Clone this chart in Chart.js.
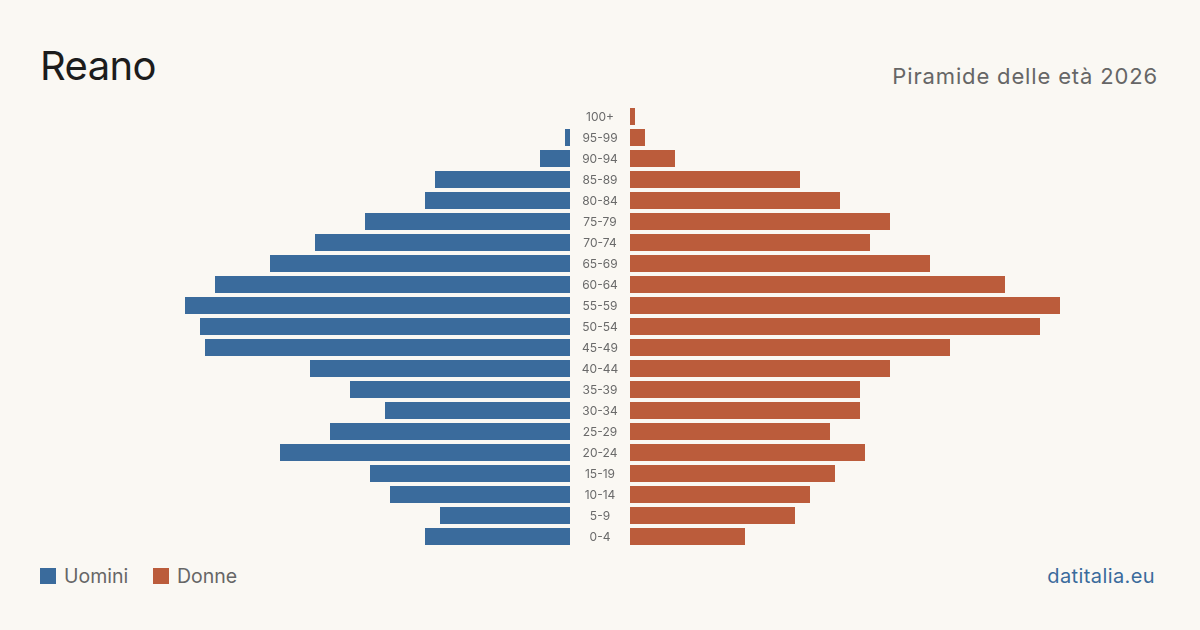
<!DOCTYPE html>
<html>
<head>
<meta charset="utf-8">
<script src="https://cdn.jsdelivr.net/npm/chart.js@4/dist/chart.umd.min.js"></script>
<style>
  html, body { margin: 0; padding: 0; }
  body { width: 1200px; height: 630px; background: #faf8f3; position: relative; overflow: hidden; font-family: Inter, "Noto Sans", sans-serif; }
  .t { position: absolute; white-space: nowrap; }
  #title { left: 40px; top: 46px; font-size: 40px; line-height: 40px; color: #1c1c1c; letter-spacing: -0.6px; }
  #subtitle { right: 42px; top: 65px; font-size: 22px; line-height: 22px; color: #666; letter-spacing: 0.85px; }
  #footer { right: 45px; top: 566px; font-size: 20px; line-height: 20px; color: #3a6b9c; letter-spacing: 0.4px; }
  .sw { position: absolute; top: 568px; width: 16px; height: 16px; }
  .lt { top: 566px; font-size: 19.5px; line-height: 20px; color: #666; }
  canvas { position: absolute; }
</style>
</head>
<body>
<div class="t" id="title">Reano</div>
<div class="t" id="subtitle">Piramide delle età 2026</div>
<div class="sw" style="left:40px;background:#3a6b9c"></div>
<div class="t lt" style="left:64px">Uomini</div>
<div class="sw" style="left:153px;background:#bb5c3b"></div>
<div class="t lt" style="left:177px">Donne</div>
<div class="t" id="footer">datitalia.eu</div>
<canvas id="men" width="440" height="441" style="left:130px;top:106px"></canvas>
<canvas id="women" width="500" height="441" style="left:570px;top:106px"></canvas>
<script>
const ageGroups = ["100+","95-99","90-94","85-89","80-84","75-79","70-74","65-69","60-64","55-59","50-54","45-49","40-44","35-39","30-34","25-29","20-24","15-19","10-14","5-9","0-4"];
const men   = [0,1,6,27,29,41,51,60,71,77,74,73,52,44,37,48,58,40,36,26,29];
const women = [1,3,9,34,42,52,48,60,75,86,82,64,52,46,46,40,47,41,36,33,23];
const axisMax = 88;

const BLUE = "#3a6b9c", ORANGE = "#bb5c3b";

function baseOptions(reverse, padLeft) {
  return {
    responsive: false,
    animation: false,
    indexAxis: 'y',
    layout: { padding: { left: padLeft, right: 0, top: 0, bottom: 0 } },
    plugins: { legend: { display: false }, tooltip: { enabled: false } },
    scales: {
      x: { display: false, min: 0, max: axisMax, reverse: reverse },
      y: { display: false, offset: true, grid: { display: false } }
    }
  };
}

new Chart(document.getElementById('men'), {
  type: 'bar',
  data: { labels: ageGroups, datasets: [{ data: men, backgroundColor: BLUE, barThickness: 17, borderWidth: 0, inflateAmount: 0 }] },
  options: baseOptions(true, 0)
});

const centerLabels = {
  id: 'centerLabels',
  afterDraw(chart) {
    const ctx = chart.ctx, y = chart.scales.y;
    ctx.save();
    ctx.font = '12px Inter, "Noto Sans", sans-serif';
    ctx.fillStyle = '#6a6a6a';
    ctx.textAlign = 'center';
    ctx.textBaseline = 'middle';
    const cx = chart.chartArea.left - 30;
    ageGroups.forEach((lab, i) => ctx.fillText(lab, cx, y.getPixelForValue(i) + 0.5));
    ctx.restore();
  }
};

new Chart(document.getElementById('women'), {
  type: 'bar',
  data: { labels: ageGroups, datasets: [{ data: women, backgroundColor: ORANGE, barThickness: 17, borderWidth: 0, inflateAmount: 0 }] },
  options: baseOptions(false, 60),
  plugins: [centerLabels]
});
</script>
</body>
</html>
